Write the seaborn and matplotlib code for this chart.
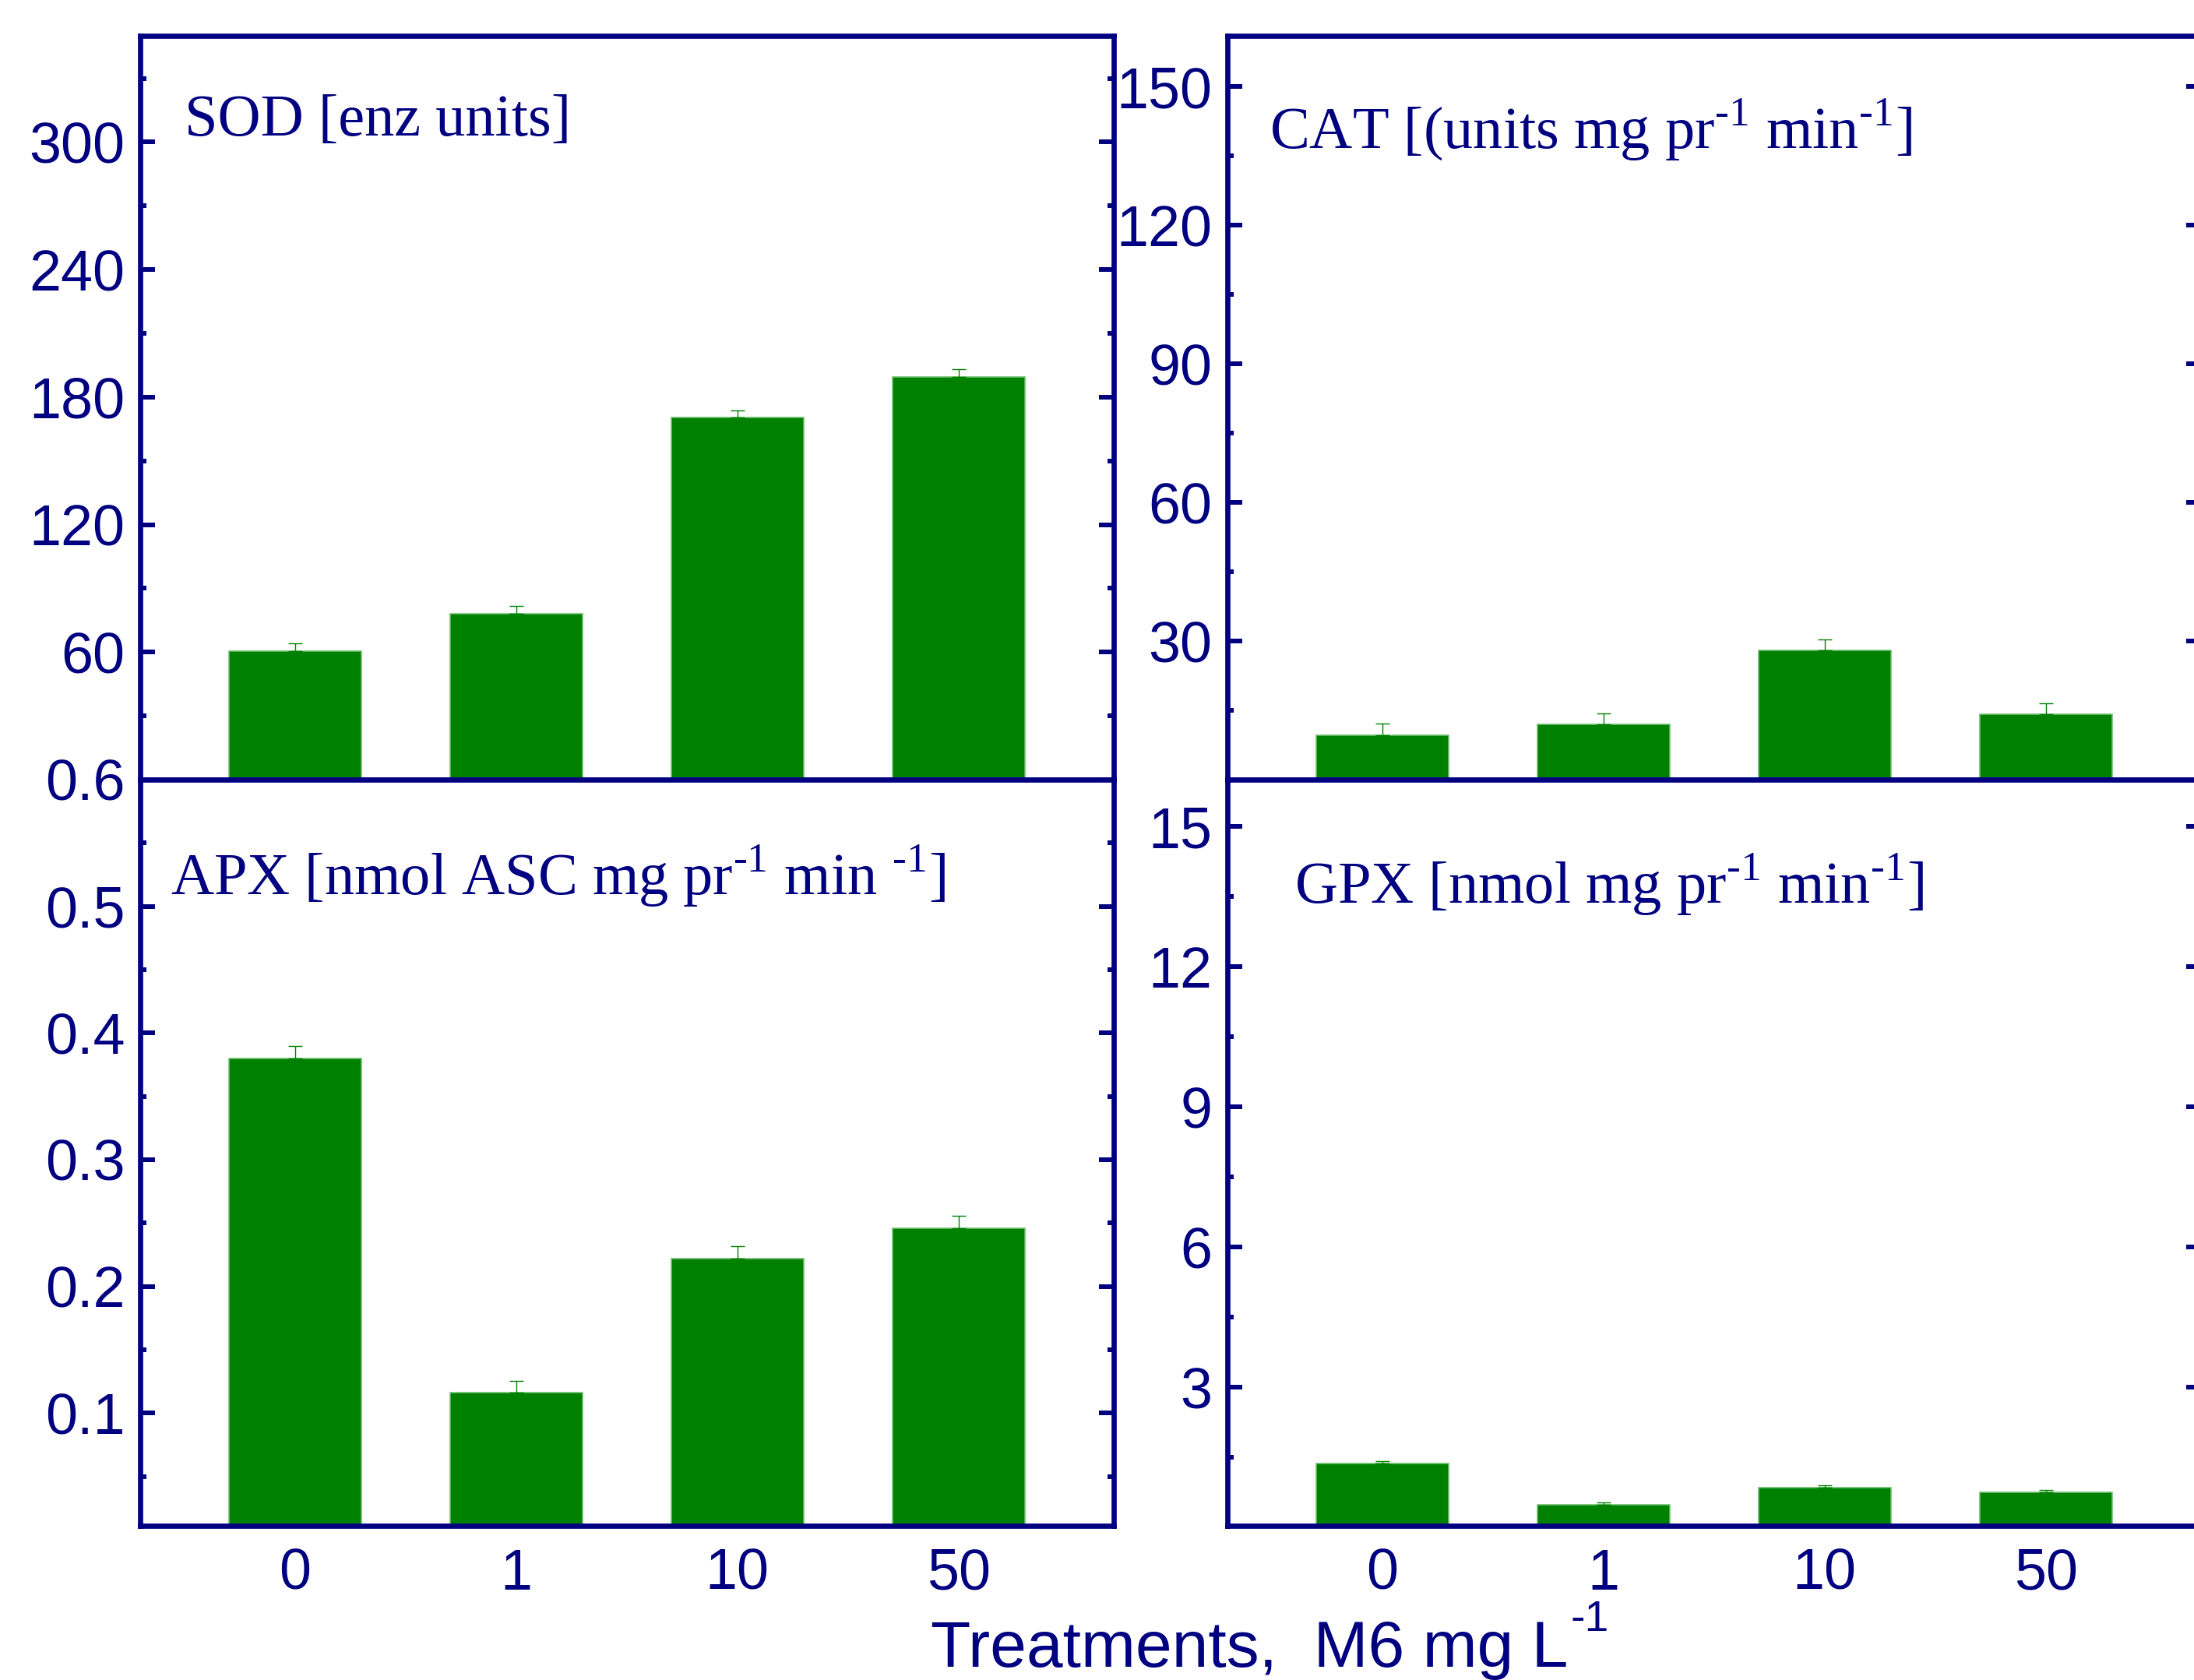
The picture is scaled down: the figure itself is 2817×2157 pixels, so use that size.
import numpy as np
import matplotlib
matplotlib.use("Agg")
import matplotlib.pyplot as plt
import seaborn as sns

# data
treatments = ["0", "1", "10", "50"]
sod = [60.5, 78.2, 170.3, 189.4]
sod_err = [3.7, 3.5, 3.5, 3.6]
cat = [9.6, 12.0, 28.0, 14.2]
cat_err = [2.5, 2.4, 2.4, 2.4]
apx = [0.380, 0.116, 0.222, 0.246]
apx_err = [0.0095, 0.0095, 0.010, 0.010]
gpx = [1.37, 0.49, 0.86, 0.75]
gpx_err = [0.06, 0.05, 0.05, 0.05]

sns.set_style("white")
plt.rcParams["mathtext.fontset"] = "custom"
plt.rcParams["mathtext.rm"] = "Liberation Serif"
plt.rcParams["mathtext.sf"] = "Liberation Sans"
plt.rcParams["font.family"] = ["Liberation Sans", "DejaVu Sans"]

navy = "#000080"
green = "#008000"
W, H = 2817, 2157

fig = plt.figure(figsize=(W / 100, H / 100), dpi=100)

def box(x0, y0, x1, y1):
    # pixel box (top-left origin) -> figure fraction
    return [x0 / W, 1 - y1 / H, (x1 - x0) / W, (y1 - y0) / H]

ax_sod = fig.add_axes(box(180, 46, 1429.5, 1001))
ax_cat = fig.add_axes(box(1576, 46, 2825.5, 1001))
ax_apx = fig.add_axes(box(180, 1001, 1429.5, 1959))
ax_gpx = fig.add_axes(box(1576, 1001, 2825.5, 1959))

panels = [
    (ax_sod, sod, sod_err, (0, 350), [60, 120, 180, 240, 300], 30, None),
    (ax_cat, cat, cat_err, (0, 161), [30, 60, 90, 120, 150], 15, None),
    (ax_apx, apx, apx_err, (0.011, 0.6), [0.1, 0.2, 0.3, 0.4, 0.5, 0.6], 0.05, "{:.1f}"),
    (ax_gpx, gpx, gpx_err, (0.04, 16), [3, 6, 9, 12, 15], 1.5, None),
]

for ax, vals, errs, ylim, yt, minor, fmtstr in panels:
    sns.barplot(x=treatments, y=vals, order=treatments, ax=ax, color=green,
                saturation=1, width=0.6, edgecolor="#6fbf6f", linewidth=1.2)
    ax.errorbar(np.arange(len(vals)), vals, yerr=[np.zeros(len(vals)), errs],
                fmt="none", ecolor=green, elinewidth=1.0, capsize=6.5, capthick=1.0)
    ax.set_xlim(-0.7, 3.7)
    ax.set_ylim(*ylim)
    ax.set_yticks(yt)
    if fmtstr:
        ax.set_yticklabels([fmtstr.format(v) for v in yt])
    ax.yaxis.set_minor_locator(matplotlib.ticker.MultipleLocator(minor))
    ax.set_xlabel("")
    ax.set_ylabel("")
    for s in ax.spines.values():
        s.set_color(navy)
        s.set_linewidth(4.8)
    ax.tick_params(axis="y", which="both", direction="in", left=True, right=True,
                   colors=navy, width=4.3, labelsize=53, pad=14,
                   labelcolor=navy)
    ax.tick_params(axis="y", which="major", length=14)
    ax.tick_params(axis="y", which="minor", length=5.5)
    ax.tick_params(axis="x", length=0, labelsize=53, labelcolor=navy, pad=20)
    for lab in ax.get_yticklabels() + ax.get_xticklabels():
        lab.set_fontfamily(["Liberation Sans", "DejaVu Sans"])

ax_sod.set_xticklabels([])
ax_cat.set_xticklabels([])

serif = dict(family=["Liberation Serif", "DejaVu Serif"], fontsize=55, color=navy, va="baseline")
fig.text(237 / W, 1 - 174 / H, "SOD [enz units]", **serif)
fig.text(1630 / W, 1 - 190 / H, r"CAT [(units mg pr$^{\text{-1}}$ min$^{\text{-1}}$]", **serif)
fig.text(219 / W, 1 - 1149 / H, r"APX [nmol ASC mg pr$^{\text{-1}}$ min $^{\text{-1}}$]", **serif)
fig.text(1662 / W, 1 - 1160 / H, r"GPX [nmol mg pr$^{\text{-1}}$ min$^{\text{-1}}$]", **serif)

# x label with a hand-placed superscript
sans = ["Liberation Sans", "DejaVu Sans"]
xl = fig.text(1195 / W, 1 - 2140 / H, "Treatments,  M6 mg L", fontsize=60.5,
              color=navy, ha="left", va="baseline", family=sans)
fig.canvas.draw()
bb = xl.get_window_extent()
fig.text(bb.x1 / W + 3 / W, 1 - 2094 / H, "-1", fontsize=40, color=navy,
         ha="left", va="baseline", family=sans)

fig.savefig("out.png", dpi=100)
